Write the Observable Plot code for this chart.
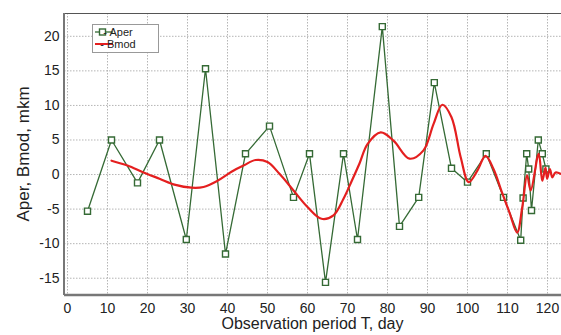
<!DOCTYPE html>
<html>
<head>
<meta charset="utf-8">
<script src="https://cdn.jsdelivr.net/npm/d3@7"></script>
<script src="https://cdn.jsdelivr.net/npm/@observablehq/plot@0.6"></script>
<style>
  html, body { margin: 0; padding: 0; background: #fff; }
  #chart { width: 561px; height: 335px; }
</style>
</head>
<body>
<div id="chart"></div>
<script>
// Aper (measured) series
const aperX = [5, 11, 17.5, 23, 29.7, 34.5, 39.5, 44.5, 50.5, 56.5, 60.5, 64.5, 69, 72.5, 78.7, 83, 87.8, 91.7, 96, 100, 104.7, 109, 113.3, 113.9, 114.8, 115.3, 116, 117.7, 118.7, 119.6];
const aperY = [-5.3, 5, -1.2, 5, -9.4, 15.3, -11.5, 3, 7, -3.3, 3, -15.6, 3, -9.4, 21.4, -7.5, -3.3, 13.3, 0.9, -1.1, 3, -3.3, -9.5, -3.4, 3, 0.8, -5.2, 5, 3, 0.8];

// Bmod (model) series
const bmodX = [11, 15, 19, 23, 27, 31, 34, 37.5, 41, 44, 47, 50, 53, 56.5, 60, 63.5, 66.5, 69, 71, 73, 75, 78.3, 81.5, 85.5, 89, 91.5, 93.7, 96, 98.3, 100.3, 102.5, 104.5, 106.5, 108.5, 110.5, 112.4, 113.7, 114.9, 115.8, 117.8, 118.7, 119.5, 119.9, 120.6, 121.2, 122, 123.3];
const bmodY = [2.0, 1.3, 0.3, -0.6, -1.5, -1.9, -1.8, -0.9, 0.4, 1.3, 2.1, 1.8, 0.1, -2.3, -4.7, -6.4, -5.9, -3.5, -1.0, 1.6, 4.4, 6.1, 4.9, 2.3, 3.5, 7.3, 10.1, 8.3, 2.5, -1.1, 0.6, 2.7, 0.8, -2.4, -5.5, -8.4, -4.7, -0.1, -2.3, 3.0, -0.9, 1.0, -0.6, 0.8, -0.4, 0.3, 0.1];

// Tick values
const xTicks = [0, 10, 20, 30, 40, 50, 60, 70, 80, 90, 100, 110, 120];
const yTicks = [-15, -10, -5, 0, 5, 10, 15, 20];

const xLabel = "Observation period T, day";
const yLabel = "Aper, Bmod, mkm";
const legendNames = ["- Aper", "- Bmod"];

const aper = aperX.map((x, i) => ({x, y: aperY[i]}));
const bmod = bmodX.map((x, i) => ({x, y: bmodY[i]}));

const green = "#356a35";
const red = "#e41f1f";
const font = "'Liberation Sans', Arial, sans-serif";

const W = 561, H = 335, mL = 64, mR = 0, mT = 13, mB = 40;

const plot = Plot.plot({
  width: W,
  height: H,
  marginLeft: mL,
  marginRight: mR,
  marginTop: mT,
  marginBottom: mB,
  style: {background: "#fff", fontFamily: font, color: "#222"},
  x: {domain: [-0.75, 123.5]},
  y: {domain: [-17.5, 23.3]},
  marks: [
    Plot.gridX(xTicks, {stroke: "#b5b5b5", strokeOpacity: 1, strokeDasharray: "1.5,1.5"}),
    Plot.gridY(yTicks, {stroke: "#b5b5b5", strokeOpacity: 1, strokeDasharray: "1.5,1.5"}),
    Plot.axisX({ticks: xTicks, tickSize: 0, tickPadding: 8, fontSize: 14, label: null, tickFormat: d => String(d)}),
    Plot.axisY({ticks: yTicks, tickSize: 0, tickPadding: 5, fontSize: 14, label: null, tickFormat: d => String(d)}),
    Plot.line(aper, {x: "x", y: "y", stroke: green, strokeWidth: 1.3}),
    Plot.dot(aper, {x: "x", y: "y", symbol: "square", r: 3.4, stroke: green, strokeWidth: 1.4, fill: "#fff"}),
    Plot.line(bmod, {x: "x", y: "y", stroke: red, strokeWidth: 2.2, curve: "catmull-rom"})
  ]
});

document.getElementById("chart").appendChild(plot);

const svg = d3.select(plot);
// plot borders: top thin, left and bottom axis lines
const x0 = mL, x1 = W - mR, y0 = mT, y1 = H - mB;
svg.append("line").attr("x1", x0).attr("x2", x1).attr("y1", y0 + 0.5).attr("y2", y0 + 0.5).attr("stroke", "#555").attr("stroke-width", 1.2);
svg.append("line").attr("x1", x0).attr("x2", x0).attr("y1", y0).attr("y2", y1).attr("stroke", "#777").attr("stroke-width", 2);
svg.append("line").attr("x1", x0).attr("x2", x1).attr("y1", y1).attr("y2", y1).attr("stroke", "#777").attr("stroke-width", 2.5);

// axis titles
svg.append("text")
  .attr("x", (x0 + x1) / 2).attr("y", 329)
  .attr("text-anchor", "middle")
  .attr("font-family", font).attr("font-size", 16).attr("fill", "#222")
  .text(xLabel);
svg.append("text")
  .attr("transform", `translate(29,${(y0 + y1) / 2}) rotate(-90)`)
  .attr("text-anchor", "middle")
  .attr("font-family", font).attr("font-size", 17).attr("fill", "#222")
  .text(yLabel);

// legend
const lg = svg.append("g");
lg.append("rect").attr("x", 92.5).attr("y", 24.5).attr("width", 66).attr("height", 28)
  .attr("fill", "#fff").attr("stroke", "#999").attr("stroke-width", 1);
lg.append("line").attr("x1", 95).attr("x2", 113).attr("y1", 32).attr("y2", 32).attr("stroke", green).attr("stroke-width", 1.3);
lg.append("rect").attr("x", 99.5).attr("y", 29).attr("width", 6).attr("height", 6).attr("fill", "#fff").attr("stroke", green).attr("stroke-width", 1.4);
lg.append("line").attr("x1", 95).attr("x2", 113).attr("y1", 44).attr("y2", 44).attr("stroke", red).attr("stroke-width", 2);
lg.append("text").attr("x", 118).attr("y", 35.5).attr("font-family", font).attr("font-size", 11).attr("fill", "#222").text(legendNames[0]);
lg.append("text").attr("x", 118).attr("y", 47.5).attr("font-family", font).attr("font-size", 11).attr("fill", "#222").text(legendNames[1]);
</script>
</body>
</html>
